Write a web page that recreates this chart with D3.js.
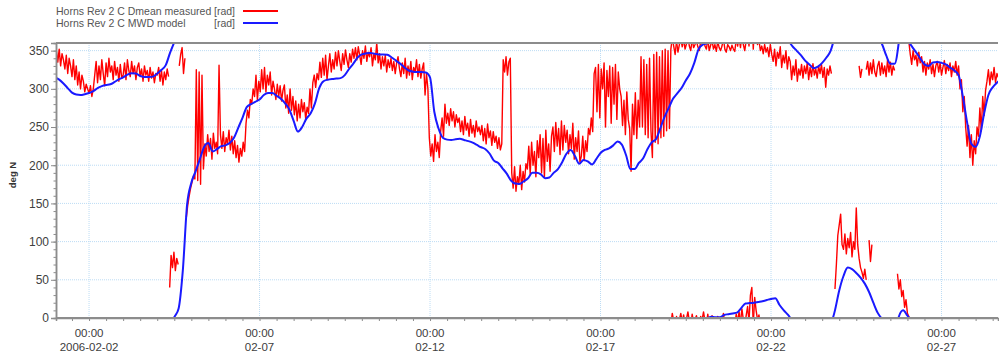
<!DOCTYPE html>
<html>
<head>
<meta charset="utf-8">
<script src="https://cdn.jsdelivr.net/npm/d3@7"></script>
<style>
  body { margin: 0; background: #fff; }
  text { font-family: Arial, "Liberation Sans", sans-serif; }
</style>
</head>
<body>
<div id="chart"></div>
<script>
// legend / axis text
var legendNames = ["Horns Rev 2 C Dmean measured", "Horns Rev 2 C MWD model"];
var legendUnit = "[rad]";
var yLabel = "deg N";
var yTicks = [0, 50, 100, 150, 200, 250, 300, 350];
var xLabelTimes = ["2006-02-02 00:00", "2006-02-07 00:00", "2006-02-12 00:00", "2006-02-17 00:00", "2006-02-22 00:00", "2006-02-27 00:00"];
var xLabelDates = ["2006-02-02", "02-07", "02-12", "02-17", "02-22", "02-27"];

// MWD model, every 3 hours from 2006-02-01 00:00 (deg, 0-360)
var modelStart = "2006-02-01 00:00";
var modelStepHours = 3;
var modelDeg = [
  315, 312, 307, 301, 295, 292.5, 292, 293,
  294.5, 297, 301, 303.5, 305, 306, 309, 312.5,
  315, 318.5, 320.5, 320, 317, 315.5, 315.5, 316,
  320, 325, 331, 347, 1, 12, 62, 148,
  177, 192, 208, 224, 229, 218, 221, 225,
  226, 229, 236, 249, 262, 276, 280, 283,
  286, 292, 294.5, 294.5, 291, 287, 281, 273,
  258, 244, 250, 261, 268, 281, 301, 310,
  312, 313, 313.5, 314, 318, 326, 333, 341,
  345, 346.5, 347, 346, 345, 345, 344.5, 341,
  337, 333, 328, 324, 322.5, 322, 322, 321.5,
  315, 270, 248, 236, 233.5, 233, 234, 234.5,
  233, 231.5, 229.5, 226.5, 223.5, 221, 215, 206,
  203, 196, 189, 180, 176, 175.5, 179, 183,
  190, 190, 188, 183, 184, 190, 195, 204,
  215, 220, 212, 202, 207, 205, 201, 208,
  216, 220, 222, 226, 231, 227, 213, 195,
  195, 203, 209, 221, 230, 234, 248, 263,
  275, 287, 294, 301, 311, 320, 334, 352,
  358, 359.5, 1.5, 1, 1, 4, 5, 6,
  7, 13, 19, 19.5, 20, 21, 22, 23.5,
  25, 26, 17, 10, 4, 356, 350, 344,
  337, 332, 327, 329, 334, 341, 350, 10,
  36, 55, 66, 64, 59, 53, 45, 34,
  20, 7, 359, 344, 333, 333, 2, 10,
  3, 356, 348, 340, 332, 330, 334.5, 335,
  334, 332, 328, 324, 318, 290, 256, 228,
  224, 238, 268, 292, 302, 308, 312
];

// Dmean measured, hourly runs (deg, 0-360); each run starts at the matching time
var measuredStepHours = 1;
var measuredStarts = [
  "2006-02-01 00:00", "2006-02-04 08:45", "2006-02-04 15:30", "2006-02-04 20:30",
  "2006-02-23 21:00", "2006-02-24 21:00", "2006-02-24 14:00", "2006-02-24 19:00", "2006-02-25 17:00"
];
var measured1 = [
  340, 350, 335, 352, 330, 346, 338, 326, 344, 320, 340, 330, 316, 338, 312, 330, 305, 322, 300, 318, 310, 296, 306, 300,
  294, 304, 290, 300, 318, 336, 308, 330, 312, 338, 320, 304, 334, 316, 340, 322, 330, 312, 336, 318, 328, 310, 332, 314,
  318, 334, 312, 338, 324, 316, 336, 320, 330, 312, 328, 334, 316, 326, 310, 330, 318, 324, 310, 328, 314, 322, 308, 320,
  318, 328, 310, 324, 305, 322, 312, 326, 316
];
var measured2 = [40, 82, 66, 86, 62, 78, 70];
var measured3 = [330, 345, 354, 320, 340];
var measured4 = [
  132, 148, 160, 170, 178, 186, 182, 325, 180, 322, 175, 318, 195, 228, 212, 240, 218, 235, 208, 242, 222, 230, 215, 331,
  240, 222, 244, 218, 236, 228, 246, 220, 238, 215, 232, 210, 226, 204, 222, 212, 230, 218, 255, 272, 262, 286, 280, 300,
  290, 318, 285, 310, 296, 325, 300, 328, 296, 318, 305, 322, 292, 310, 300, 286, 306, 290, 304, 284, 298, 305, 275, 292,
  268, 300, 272, 290, 266, 284, 258, 280, 262, 286, 270, 282, 260, 276, 268, 300, 275, 308, 318, 302, 320, 312, 335, 315,
  340, 318, 344, 312, 330, 346, 322, 338, 326, 348, 330, 350, 336, 324, 346, 332, 351, 338, 328, 346, 335, 352, 340, 354,
  338, 355, 344, 332, 350, 340, 356, 336, 348, 342, 354, 330, 346, 338, 360, 334, 346, 326, 342, 330, 344, 322, 338, 328,
  340, 324, 336, 320, 334, 342, 326, 316, 334, 320, 340, 314, 330, 318, 336, 312, 328, 322, 338, 316, 332, 314, 326, 334,
  292, 320, 300, 236, 212, 228, 205, 240, 218, 230, 210, 245, 262, 238, 280, 255, 268, 252, 274, 258, 270, 250, 266, 256,
  262, 244, 258, 240, 264, 246, 255, 238, 260, 242, 252, 237, 258, 244, 250, 240, 252, 232, 248, 228, 254, 236, 245, 226,
  244, 230, 238, 222, 236, 220, 228, 338, 322, 342, 318, 335, 340, 190, 170, 198, 166, 185, 175, 200, 168, 192, 178, 202,
  195, 225, 188, 230, 200, 218, 185, 232, 210, 240, 190, 235, 184, 246, 205, 228, 192, 238, 250, 218, 256, 225, 248, 214,
  258, 220, 252, 230, 246, 215, 240, 222, 255, 208, 236, 218, 245, 204, 212, 238, 206, 232, 218, 248, 240, 262, 244, 320,
  328, 270, 332, 262, 326, 300, 334, 250, 324, 290, 330, 255, 328, 280, 332, 260, 322, 300, 290, 252, 285, 240, 296, 260,
  248, 192, 280, 240, 295, 235, 285, 250, 342, 250, 338, 240, 332, 236, 340, 245, 210, 345, 230, 348, 228, 342, 236, 350,
  238, 352, 245, 350, 248, 352, 6, 356, 345, 2, 348, 358, 6, 355, 4, 352, 359, 8, 356, 350, 5, 354, 358, 3,
  355, 350, 2, 358, 8, 356, 352, 5, 350, 357, 3, 352, 358, 349, 2, 354, 350, 356, 6, 352, 348, 358, 355, 350,
  357, 352, 349, 5, 356, 8, 354, 12, 358, 350, 3, 15, 356, 30, 40, 352, 27, 10, 358, 4, 350, 356, 346, 358,
  348, 354, 342, 358, 345, 336, 352, 330, 348, 340, 355, 328, 344, 334, 350, 326, 342, 336, 312, 330, 318, 338, 310, 326,
  318, 332, 314, 330, 320, 334, 312, 328, 316, 333, 318, 326, 314, 330, 320, 332, 315, 328, 302, 326, 318, 330, 320
];
var measured5 = [38, 70, 108, 122, 136, 96, 90, 110, 84, 104, 92, 112, 80, 100, 90, 144, 96, 78, 66, 60, 52, 64, 50];
var measured6 = [102, 74, 96];
var measured7 = [330, 315, 326];
var measured8 = [325, 336, 318, 334, 320, 338, 322, 316, 330, 336, 318, 334, 320, 330, 316, 338, 322, 335, 318, 330, 324];
var measured9 = [
  58, 38, 50, 28, 36, 14, 24, 6, 2, 345, 332, 350, 338, 344, 330, 348, 334, 342,
  322, 336, 318, 334, 326, 338, 320, 332, 316, 330, 336, 322, 334, 318, 328, 337, 320, 332, 324, 334, 316, 330, 322, 336, 318, 330,
  300, 312, 270, 290, 250, 225, 252, 210, 240, 200, 232, 215,
  250, 238, 275, 245, 290, 265, 298, 310, 325, 305, 322, 312, 328, 308, 320, 315, 326
];
var measuredRuns = [measured1, measured2, measured3, measured4, measured5, measured6, measured7, measured8, measured9];

var parseTime = d3.timeParse("%Y-%m-%d %H:%M");

var svg_width = 999;
var svg_height = 356;
var plot = { left: 56, right: 998, top: 43, bottom: 318 };

var svg = d3.select("#chart").append("svg")
  .attr("width", svg_width)
  .attr("height", svg_height);

var x_scale = d3.scaleTime()
  .domain([parseTime("2006-02-01 00:45"), parseTime("2006-02-28 15:45")])
  .range([plot.left, plot.right]);

var y_scale = d3.scaleLinear()
  .domain([0, 360])
  .range([plot.bottom, plot.top]);

function toPoints(start, stepHours, values) {
  var t0 = parseTime(start).getTime();
  return values.map(function(v, i) {
    return { t: new Date(t0 + i * stepHours * 3600000), v: v };
  });
}

// split a direction series where it wraps round 0/360,
// carrying the line past the edge so the clip cuts it
function wrapRuns(points) {
  var out = [];
  var cur = [];
  for (var i = 0; i < points.length; i++) {
    var p = points[i];
    var prev = i > 0 ? points[i - 1] : null;
    if (prev && Math.abs(p.v - prev.v) > 180) {
      var s = p.v < prev.v ? 360 : -360;
      cur.push({ t: p.t, v: p.v + s });
      out.push(cur);
      cur = [{ t: prev.t, v: prev.v - s }];
    }
    cur.push(p);
  }
  if (cur.length) out.push(cur);
  return out;
}

// grid
var grid = svg.append("g");
grid.selectAll(".hgrid")
  .data(yTicks.filter(function(d) { return d > 0; }))
  .enter().append("line")
  .attr("x1", plot.left).attr("x2", plot.right)
  .attr("y1", function(d) { return y_scale(d); })
  .attr("y2", function(d) { return y_scale(d); })
  .attr("stroke", "#bcdcf4")
  .attr("stroke-width", 1)
  .attr("stroke-dasharray", "1,1");
grid.selectAll(".vgrid")
  .data(xLabelTimes)
  .enter().append("line")
  .attr("x1", function(d) { return x_scale(parseTime(d)); })
  .attr("x2", function(d) { return x_scale(parseTime(d)); })
  .attr("y1", plot.top).attr("y2", plot.bottom)
  .attr("stroke", "#bcdcf4")
  .attr("stroke-width", 1)
  .attr("stroke-dasharray", "1,1");

svg.append("clipPath").attr("id", "plotclip")
  .append("rect")
  .attr("x", plot.left).attr("y", plot.top)
  .attr("width", plot.right - plot.left).attr("height", plot.bottom - plot.top);

var lines = svg.append("g").attr("clip-path", "url(#plotclip)");

var red_line = d3.line()
  .x(function(d) { return x_scale(d.t); })
  .y(function(d) { return y_scale(d.v); });

var blue_line = d3.line()
  .curve(d3.curveMonotoneX)
  .x(function(d) { return x_scale(d.t); })
  .y(function(d) { return y_scale(d.v); });

measuredRuns.forEach(function(run, k) {
  wrapRuns(toPoints(measuredStarts[k], measuredStepHours, run)).forEach(function(seg) {
    lines.append("path")
      .datum(seg)
      .attr("fill", "none")
      .attr("stroke", "#ff0000")
      .attr("stroke-width", 1.4)
      .attr("stroke-linejoin", "round")
      .attr("d", red_line);
  });
});

wrapRuns(toPoints(modelStart, modelStepHours, modelDeg)).forEach(function(seg) {
  lines.append("path")
    .datum(seg)
    .attr("fill", "none")
    .attr("stroke", "#1a1aff")
    .attr("stroke-width", 2)
    .attr("stroke-linejoin", "round")
    .attr("stroke-linecap", "round")
    .attr("d", blue_line);
});

// axes
var axisColor = "#8c8c8c";

var y_axis = d3.axisLeft(y_scale).tickValues(yTicks).tickSize(5).tickPadding(2);
var y_minor = d3.axisLeft(y_scale).tickValues(d3.range(0, 361, 10)).tickSize(2.5).tickFormat("");
var gy = svg.append("g").attr("transform", "translate(" + plot.left + ",0)").call(y_axis);
svg.append("g").attr("transform", "translate(" + plot.left + ",0)").call(y_minor);

var halfDays = d3.timeHour.every(12).range(x_scale.domain()[0], x_scale.domain()[1]);
var x_axis = d3.axisBottom(x_scale).tickValues(halfDays).tickSize(3).tickFormat("");
svg.append("g").attr("transform", "translate(0," + plot.bottom + ")").call(x_axis);

svg.selectAll(".domain").attr("stroke", axisColor).attr("stroke-width", 1.5);
svg.selectAll(".tick line").attr("stroke", axisColor);
gy.selectAll(".tick text")
  .attr("fill", "#404040")
  .style("font-size", "12px");

// thicker bottom and top frame lines
svg.append("line")
  .attr("x1", plot.left).attr("x2", plot.right)
  .attr("y1", plot.bottom).attr("y2", plot.bottom)
  .attr("stroke", axisColor).attr("stroke-width", 2);
svg.append("line")
  .attr("x1", plot.left).attr("x2", plot.right)
  .attr("y1", plot.top).attr("y2", plot.top)
  .attr("stroke", axisColor).attr("stroke-width", 2);

// two-line date labels
var xl = svg.append("g").selectAll("g")
  .data(xLabelTimes)
  .enter().append("g")
  .attr("transform", function(d) { return "translate(" + x_scale(parseTime(d)) + ",0)"; });
xl.append("text")
  .attr("y", 337)
  .attr("text-anchor", "middle")
  .attr("fill", "#404040")
  .style("font-size", "11.5px")
  .text(function(d) { return d.slice(11); });
xl.append("text")
  .attr("y", 351)
  .attr("text-anchor", "middle")
  .attr("fill", "#404040")
  .style("font-size", "11.5px")
  .text(function(d, i) { return xLabelDates[i]; });

svg.append("text")
  .attr("transform", "translate(16,175) rotate(-90)")
  .attr("text-anchor", "middle")
  .attr("fill", "#333")
  .style("font-size", "9.5px")
  .style("font-weight", "bold")
  .text(yLabel);

// legend
var legendColors = ["#ff0000", "#1a1aff"];
var legend = svg.append("g").selectAll("g")
  .data(legendNames)
  .enter().append("g")
  .attr("transform", function(d, i) { return "translate(0," + (11 + i * 12) + ")"; });
legend.append("text")
  .attr("x", 56).attr("y", 3.5)
  .attr("fill", "#555")
  .style("font-size", "10.5px")
  .text(function(d) { return d; });
legend.append("text")
  .attr("x", 235).attr("y", 3.5)
  .attr("text-anchor", "end")
  .attr("fill", "#555")
  .style("font-size", "10.5px")
  .text(legendUnit);
legend.append("line")
  .attr("x1", 243).attr("x2", 278)
  .attr("y1", 0).attr("y2", 0)
  .attr("stroke", function(d, i) { return legendColors[i]; })
  .attr("stroke-width", 2);
</script>
</body>
</html>
